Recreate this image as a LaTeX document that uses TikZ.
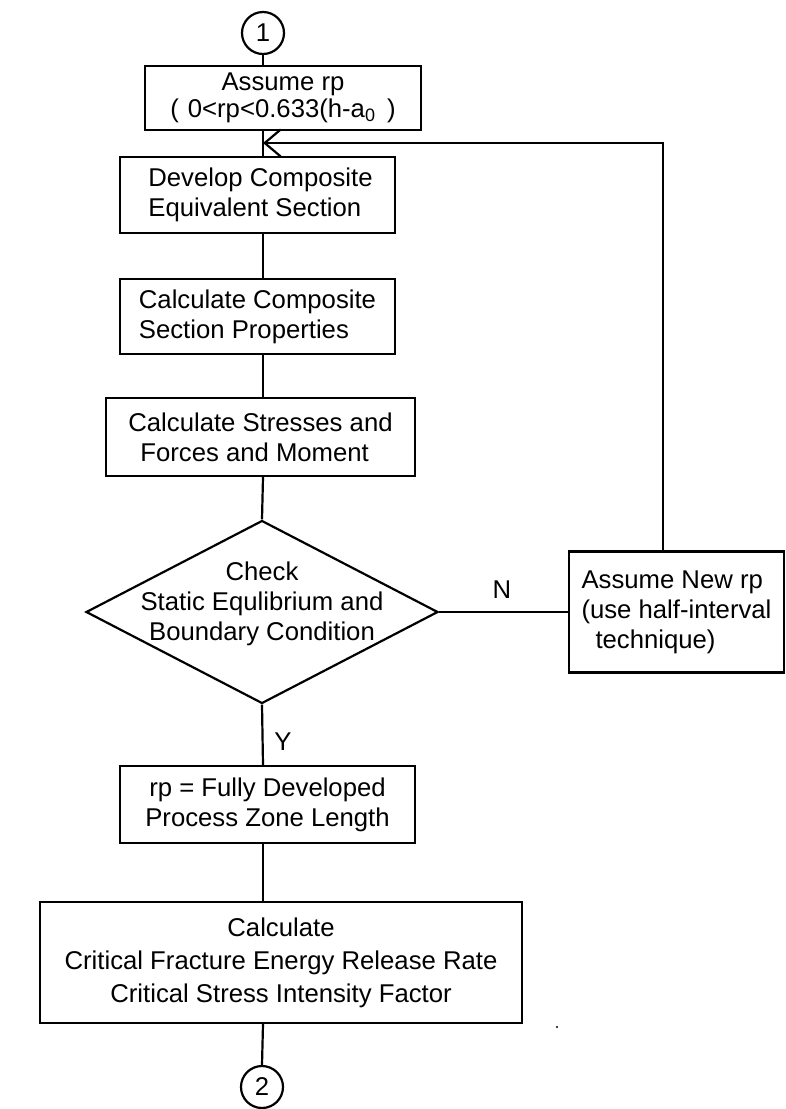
\documentclass[tikz,border=0pt]{standalone}
\usepackage{fontspec}
\setmainfont{Liberation Sans}
\usetikzlibrary{shapes.geometric,arrows.meta}

\begin{document}
\begin{tikzpicture}[x=1pt,y=-1pt,
  every node/.style={font=\fontsize{25.7pt}{30pt}\selectfont, text=black},
  line/.style={draw=black, line width=2.2pt},
  procbox/.style={draw=black, line width=2.2pt, rectangle, inner sep=0pt, align=center},
  connector/.style={draw=black, line width=2.2pt, circle, inner sep=0pt, minimum size=42pt},
  decision/.style={draw=black, line width=2.2pt, diamond, inner sep=0pt},
  flowlabel/.style={inner sep=0pt}
]
\useasboundingbox (0,0) rectangle (785,1109);

% connector circles
\node[connector] (c1) at (263,33) {1};
\node[connector] (c2) at (262,1087) {2};

% process boxes
\node[procbox, minimum width=276pt, minimum height=64pt,
      font=\fontsize{25.7pt}{27pt}\selectfont] (boxA) at (283,98)
  {Assume rp\\(\hspace{0.35em}0<rp<0.633(h-a\textsubscript{0}\hspace{0.45em})};
\node[procbox, minimum width=275pt, minimum height=76pt, align=left] (boxB) at (257.5,195)
  {\hspace*{6pt}Develop Composite\\\hspace*{6pt}Equivalent Section};
\node[procbox, minimum width=275pt, minimum height=75pt, align=left] (boxC) at (257.5,316.5)
  {Calculate Composite\\Section Properties};
\node[procbox, minimum width=309pt, minimum height=78pt, align=left] (boxD) at (260.5,437)
  {Calculate Stresses and\\\hspace*{12pt}Forces and Moment};

% decision
\node[decision, minimum width=352pt, minimum height=183pt] (chk) at (262,612) {};
\node[flowlabel, align=center] (chktxt) at (262,604)
  {Check\\Static Equlibrium and\\Boundary Condition};

\node[procbox, minimum width=215pt, minimum height=121pt, align=left] (boxE) at (676.5,612)
  {Assume New rp\\(use half-interval\\\hspace*{14pt}technique)};

\node[procbox, minimum width=295pt, minimum height=77pt] (boxF) at (267.5,804.5)
  {rp = Fully Developed\\Process Zone Length};
\node[procbox, minimum width=482pt, minimum height=121pt,
      font=\fontsize{25.7pt}{33pt}\selectfont] (boxG) at (281,962.5)
  {Calculate\\Critical Fracture Energy Release Rate\\Critical Stress Intensity Factor};

% branch labels
\node[flowlabel] (lblN) at (502,590) {N};
\node[flowlabel] (lblY) at (283,742) {Y};

% main flow
\draw[line] (c1.south) -- (c1 |- boxA.north);
\draw[line] (c1 |- boxA.south) -- (c1 |- boxB.north);
\draw[line] (c1 |- boxB.south) -- (c1 |- boxC.north);
\draw[line] (c1 |- boxC.south) -- (c1 |- boxD.north);
\draw[line] (c1 |- boxD.south) -- (chk.north);
\draw[line] (chk.east) -- (boxE.west);
\draw[line] (chk.south) -- (c1 |- boxF.north);
\draw[line] (c1 |- boxF.south) -- (c1 |- boxG.north);
\draw[line] (c1 |- boxG.south) -- (c2.north);

% return loop
\coordinate (loopTop) at (663,143);
\draw[line, -{Straight Barb[length=16pt,width=27pt,line width=2.2pt]}]
  (loopTop |- boxE.north) -- (loopTop) -- (c1 |- loopTop);

% speck
\fill[black] (557,1027) circle (1.2);
\end{tikzpicture}
\end{document}
